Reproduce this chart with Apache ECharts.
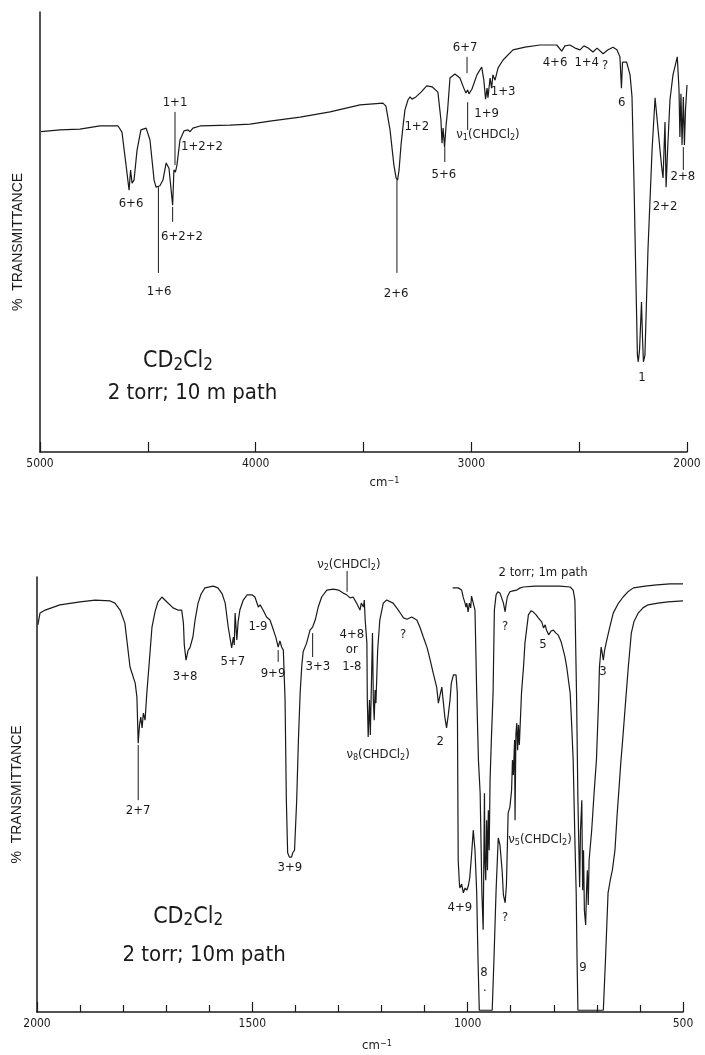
<!DOCTYPE html>
<html>
<head>
<meta charset="utf-8">
<script src="https://cdn.jsdelivr.net/npm/echarts@6/dist/echarts.min.js"></script>
<style>
  html, body { margin: 0; background: #fff; }
  #main { width: 705px; height: 1055px; }
</style>
</head>
<body>
<div id="main"></div>
<script>
// IR spectrum of CD2Cl2, % transmittance vs wavenumber (cm-1)

// upper panel, 5000-2000 cm-1, 10 m path
const topWavenumber = [4995, 4907, 4815, 4722, 4638, 4620, 4601, 4587, 4580, 4573, 4564, 4550, 4532, 4508, 4490, 4471, 4462, 4444, 4430, 4415,
  4402, 4385, 4379, 4372, 4365, 4351, 4332, 4314, 4304, 4291, 4258, 4119, 4026, 3934, 3794, 3655, 3516, 3410, 3396, 3377,
  3359, 3349, 3342, 3335, 3326, 3317, 3308, 3294, 3284, 3275, 3257, 3233, 3207, 3182, 3155, 3141, 3136, 3131, 3124, 3117,
  3110, 3099, 3076, 3053, 3035, 3025, 3017, 3011, 2997, 2974, 2952, 2942, 2934, 2927, 2923, 2913, 2906, 2900, 2890, 2876,
  2853, 2807, 2751, 2682, 2604, 2581, 2566, 2543, 2519, 2496, 2478, 2458, 2436, 2417, 2389, 2366, 2343, 2325, 2311, 2304,
  2299, 2280, 2264, 2255, 2246, 2236, 2230, 2226, 2220, 2211, 2206, 2202, 2195, 2181, 2162, 2148, 2134, 2118, 2111, 2102,
  2097, 2090, 2079, 2065, 2045, 2037, 2033, 2028, 2023, 2017, 2012, 2007, 2000];
const topTrans = [72.8, 73.2, 73.4, 74.1, 74.1, 72.7, 65.2, 59.5, 64.1, 61.1, 61.8, 68.6, 73.2, 73.6, 70.9, 61.8, 60.2, 60.5, 61.8, 65.7,
  64.5, 56.1, 64.1, 63.6, 65.2, 70.9, 73.0, 73.2, 72.8, 73.6, 74.1, 74.3, 74.5, 75.2, 76.1, 77.3, 78.9, 79.3, 78.6, 73.2,
  65.2, 62.3, 61.8, 64.1, 69.8, 73.9, 77.7, 80.0, 80.7, 80.2, 80.7, 81.8, 83.2, 83.0, 81.8, 75.5, 70.2, 73.6, 69.3, 74.3,
  77.7, 85.0, 85.9, 85.0, 82.7, 81.6, 82.3, 81.4, 82.5, 85.7, 87.5, 84.5, 80.2, 82.7, 80.5, 85.0, 82.7, 85.7, 84.5, 87.3,
  89.1, 91.4, 92.0, 92.5, 92.5, 91.1, 92.3, 92.5, 91.8, 91.4, 92.3, 91.8, 90.9, 91.8, 90.5, 91.4, 92.0, 91.4, 89.8, 82.7,
  88.6, 88.6, 85.7, 80.7, 61.8, 36.8, 22.0, 20.5, 23.2, 34.1, 25.5, 20.5, 22.0, 45.9, 68.6, 80.5, 73.2, 65.0, 62.3, 75.0,
  60.2, 68.6, 80.0, 85.7, 89.8, 82.3, 71.6, 81.4, 69.8, 80.7, 69.8, 77.7, 83.4];

// lower panel, 2000-500 cm-1, 10 m path
const lowWavenumber = [1998, 1993, 1981, 1947, 1900, 1865, 1830, 1819, 1807, 1796, 1784, 1772, 1768, 1765, 1762, 1759, 1756, 1753, 1749, 1745,
  1738, 1733, 1726, 1719, 1710, 1699, 1684, 1673, 1664, 1660, 1658, 1654, 1649, 1645, 1638, 1633, 1626, 1619, 1610, 1591,
  1580, 1570, 1563, 1556, 1548, 1544, 1542, 1540, 1536, 1533, 1529, 1521, 1512, 1501, 1494, 1486, 1482, 1475, 1467, 1459,
  1451, 1445, 1440, 1436, 1432, 1428, 1424, 1421, 1418, 1414, 1409, 1406, 1402, 1397, 1393, 1389, 1385, 1382, 1378, 1374,
  1366, 1360, 1354, 1347, 1339, 1327, 1312, 1300, 1289, 1281, 1277, 1273, 1266, 1258, 1250, 1247, 1242, 1240, 1238, 1234,
  1233, 1231, 1228, 1226, 1223, 1221, 1219, 1217, 1215, 1213, 1209, 1204, 1196, 1188, 1173, 1161, 1155, 1149, 1145, 1141,
  1130, 1118, 1111, 1103, 1094, 1087, 1080, 1072, 1068, 1064, 1060, 1057, 1053, 1049, 1045, 1041, 1038, 1033, 1027, 1024,
  1022, 1019, 1018, 1014, 1010, 1006, 1002, 998, 995, 991, 987, 983, 979, 976, 973, 943, 939, 934, 929, 925,
  920, 917, 913, 910, 906, 902, 898, 896, 894, 891, 890, 888, 886, 884, 882, 880, 875, 870, 867, 859,
  853, 848, 841, 836, 832, 828, 824, 820, 817, 812, 806, 801, 795, 790, 783, 778, 774, 770, 766, 762,
  759, 755, 751, 748, 746, 744, 685, 680, 674, 668, 664, 658, 653, 648, 644, 641, 633, 627, 620, 614,
  604, 593, 581, 558, 535, 500];
const lowTrans = [89.0, 91.7, 92.4, 93.6, 94.3, 94.7, 94.5, 94.0, 92.4, 89.4, 79.3, 75.6, 72.4, 61.8, 66.0, 67.8, 65.3, 68.7, 67.1, 73.3,
  82.1, 88.5, 92.0, 94.3, 95.4, 94.3, 92.9, 92.4, 92.4, 89.4, 84.4, 80.9, 83.2, 83.7, 86.2, 90.1, 94.0, 96.1, 97.5, 97.9,
  97.5, 96.1, 94.0, 88.5, 83.7, 86.2, 84.4, 91.7, 85.5, 89.7, 92.4, 94.7, 95.9, 95.9, 95.4, 93.1, 93.6, 92.4, 90.8, 90.1,
  87.8, 86.0, 83.9, 85.3, 83.9, 83.2, 71.7, 48.7, 36.6, 35.6, 35.6, 36.6, 37.2, 48.7, 62.5, 73.3, 79.8, 82.8, 83.2, 84.8,
  87.8, 88.5, 90.1, 93.1, 95.4, 97.0, 97.2, 97.0, 96.3, 95.9, 96.3, 95.2, 95.4, 94.0, 92.4, 94.0, 93.1, 94.7, 90.1, 84.8,
  71.7, 63.2, 71.7, 63.7, 64.1, 87.1, 71.7, 67.1, 74.0, 71.0, 83.2, 90.1, 94.0, 94.7, 94.0, 92.4, 91.5, 90.6, 91.0, 90.3,
  90.8, 90.1, 88.5, 86.2, 83.7, 80.9, 77.9, 74.7, 71.0, 72.9, 74.7, 71.7, 67.8, 65.3, 68.3, 71.7, 75.6, 77.5, 77.5, 73.3,
  34.9, 29.2, 28.5, 29.4, 27.4, 28.5, 28.0, 29.2, 31.0, 36.1, 41.8, 37.2, 27.4, 12.0, 0.4, 0.4, 12.0, 28.0, 40.0, 38.4,
  32.6, 26.9, 25.1, 29.2, 45.7, 47.1, 51.0, 57.9, 54.5, 62.5, 44.1, 63.7, 66.4, 60.2, 66.0, 61.4, 73.3, 79.8, 84.8, 91.3,
  92.2, 92.0, 91.3, 90.6, 90.8, 89.7, 88.3, 89.0, 87.8, 86.7, 87.6, 87.8, 87.1, 86.7, 85.1, 83.2, 81.6, 79.3, 76.3, 73.3,
  67.1, 57.9, 39.5, 27.4, 12.0, 0.4, 0.4, 12.0, 27.4, 30.8, 32.6, 37.2, 45.3, 52.2, 57.9, 61.4, 71.7, 79.3, 87.1, 89.7,
  91.7, 92.9, 93.6, 94.0, 94.3, 94.5];

// lower panel, 2 torr, 1 m path
const shortWavenumber = [1035, 1022, 1014, 1010, 1006, 1004, 1002, 999, 996, 993, 991, 987, 983, 979, 975, 971, 967, 964, 961, 960,
  958, 956, 954, 952, 950, 948, 945, 941, 938, 934, 930, 925, 921, 917, 913, 911, 908, 902, 895, 886,
  878, 871, 844, 816, 786, 762, 758, 755, 751, 747, 744, 740, 738, 735, 733, 731, 729, 726, 724, 722,
  720, 718, 712, 706, 701, 696, 694, 690, 688, 685, 682, 677, 670, 662, 651, 639, 628, 615, 588, 561,
  530, 500];
const shortTrans = [97.5, 97.5, 97.0, 95.2, 94.0, 93.1, 94.0, 92.0, 94.0, 92.9, 95.6, 95.2, 92.4, 73.3, 57.9, 50.3, 27.4, 18.9, 50.3, 34.9,
  30.3, 44.1, 32.6, 46.4, 37.2, 53.3, 62.5, 73.3, 92.4, 95.9, 96.6, 96.3, 95.2, 94.0, 92.0, 93.6, 95.4, 96.6, 96.8, 97.0,
  97.5, 97.7, 97.9, 97.9, 97.9, 97.7, 97.5, 97.0, 94.7, 71.7, 48.7, 28.7, 41.8, 48.7, 28.0, 37.2, 23.4, 20.0, 28.0, 32.6,
  24.6, 34.9, 41.8, 51.0, 57.9, 71.7, 79.3, 83.9, 82.8, 80.9, 83.2, 85.5, 88.5, 91.7, 93.8, 95.4, 96.6, 97.5, 97.9, 98.2,
  98.4, 98.4];

// band assignments: [text, wavenumber, transmittance]
const topLabels = [
  ['1+1', 4374, 79.3], ['1+2+2', 4249, 69.3], ['6+6', 4578, 56.4], ['6+2+2', 4342, 48.9],
  ['1+6', 4448, 36.4], ['2+6', 3349, 36.1], ['1+2', 3253, 73.9], ['5+6', 3127, 63.0],
  ['6+7', 3029, 92.0], ['{n|ν}{s|1}{n|(CHDCl}{s|2}{n|)}', 2923, 72.0], ['1+9', 2929, 77.0],
  ['1+3', 2853, 81.8], ['4+6', 2612, 88.4], ['1+4', 2465, 88.4], ['?', 2380, 87.7],
  ['6', 2303, 79.3], ['2+2', 2102, 55.7], ['2+8', 2019, 62.5], ['1', 2209, 17.0]
];
const topLeaders = [[4374, 77.3, 65.2], [4385, 55.7, 52.3], [4451, 60.2, 40.7], [3345, 61.8, 40.7],
  [3123, 69.3, 65.9], [3020, 89.8, 86.1], [3017, 79.5, 73.2], [2017, 69.3, 64.1]];
const topNotes = [['{m|CD}{b|2}{m|Cl}{b|2}', 4360, 20.5], ['2 torr; 10 m path', 4293, 13.4]];

const lowLabels = [
  ['{n|ν}{s|2}{n|(CHDCl}{s|2}{n|)}', 1276, 102.8], ['2 torr; 1m path', 825, 100.9],
  ['3+8', 1656, 77.0], ['5+7', 1545, 80.5], ['1-9', 1487, 88.5], ['9+9', 1452, 77.9],
  ['3+3', 1348, 79.3], ['4+8', 1269, 86.7], ['or', 1269, 83.2], ['1-8', 1269, 79.3],
  ['?', 1150, 86.7], ['{n|ν}{s|8}{n|(CHDCl}{s|2}{n|)}', 1208, 59.1], ['2', 1064, 62.1],
  ['2+7', 1765, 46.4], ['3+9', 1413, 33.1], ['4+9', 1018, 24.1], ['?', 913, 21.6],
  ['{n|ν}{s|5}{n|(CHDCl}{s|2}{n|)}', 832, 39.5], ['8', 962, 9.0], ['·', 960, 4.6],
  ['9', 732, 10.1], ['5', 825, 84.4], ['3', 686, 78.2], ['?', 913, 88.5]
];
const lowLeaders = [[1765, 61.4, 48.7], [1360, 87.1, 81.6], [1440, 83.2, 80.5], [1280, 101.4, 96.6]];
const lowNotes = [['{m|CD}{b|2}{m|Cl}{b|2}', 1649, 21.8], ['2 torr; 10m path', 1612, 13.1]];

const FONT = '"Liberation Sans Narrow", "DejaVu Sans Condensed", "Liberation Sans", sans-serif';
const ink = '#1a1a1a';

const chart = echarts.init(document.getElementById('main'));

const pairs = (xs, ys) => xs.map((x, i) => [x, ys[i]]);

const nameRich = {
  a: { fontSize: 13, fontFamily: FONT, color: ink, verticalAlign: 'bottom', lineHeight: 13, padding: [5, 0, 0, 0] },
  b: { fontSize: 9, fontFamily: FONT, color: ink, verticalAlign: 'top', lineHeight: 10 }
};

function makeX(grid, min, max, minor, gap, shift) {
  return {
    gridIndex: grid, type: 'value', min: min, max: max, interval: 500, inverse: true,
    axisLine: { lineStyle: { color: ink, width: 1.5 } },
    axisTick: { inside: true, length: 10, lineStyle: { color: ink, width: 1.2 } },
    minorTick: { show: minor, splitNumber: 5, length: 7, lineStyle: { color: ink, width: 1.2 } },
    axisLabel: {
      color: ink, fontSize: 12, fontFamily: FONT, margin: 6,
      formatter: v => (grid === 0 && v % 1000 !== 0) ? '' : String(v)
    },
    splitLine: { show: false },
    name: '{a|cm}{b|−1}', nameLocation: 'middle', nameGap: gap,
    nameTextStyle: { rich: nameRich, padding: [0, 0, 0, shift] }
  };
}

function makeY(grid, gap, pad) {
  return {
    gridIndex: grid, type: 'value', min: 0, max: 100,
    axisLine: { show: true, lineStyle: { color: ink, width: 1.5 } },
    axisTick: { show: false }, axisLabel: { show: false }, splitLine: { show: false },
    name: '%  TRANSMITTANCE', nameLocation: 'middle', nameRotate: 90, nameGap: gap,
    nameTextStyle: { color: ink, fontSize: 14, fontFamily: '"Liberation Sans", sans-serif', padding: pad }
  };
}

function trace(grid, xs, ys) {
  return {
    type: 'line', xAxisIndex: grid, yAxisIndex: grid, data: pairs(xs, ys),
    showSymbol: false, symbol: 'none', clip: false,
    lineStyle: { color: ink, width: 1.2 }
  };
}

chart.setOption({
  animation: false,
  backgroundColor: '#fff',
  grid: [
    { left: 40, top: 12, width: 647, height: 440 },
    { left: 37, top: 577, width: 646, height: 435 }
  ],
  xAxis: [makeX(0, 2000, 5000, false, 24, 42), makeX(1, 500, 2000, true, 27, 34)],
  yAxis: [makeY(0, 15, [0, 20, 0, 0]), makeY(1, 13, [0, 0, 0, 0])],
  series: [
    trace(0, topWavenumber, topTrans),
    trace(1, lowWavenumber, lowTrans),
    trace(1, shortWavenumber, shortTrans)
  ]
});

// annotations placed through the axes' own scales
const labelRich = {
  n: { fontSize: 13, fontFamily: FONT, verticalAlign: 'top', lineHeight: 14 },
  s: { fontSize: 9, fontFamily: FONT, verticalAlign: 'bottom', lineHeight: 10, padding: [6, 0, 0, 0] }
};
const noteRich = {
  m: { fontSize: 23, fontFamily: FONT, verticalAlign: 'top', lineHeight: 24 },
  b: { fontSize: 17, fontFamily: FONT, verticalAlign: 'bottom', lineHeight: 17, padding: [12, 0, 0, 0] }
};

const graphics = [];
function addText(grid, item, size, rich) {
  const p = chart.convertToPixel({ gridIndex: grid }, [item[1], item[2]]);
  graphics.push({
    type: 'text', x: p[0], y: p[1], z: 10,
    style: {
      text: item[0], fill: ink, fontSize: size, fontFamily: FONT,
      align: 'center', verticalAlign: 'middle', rich: rich
    }
  });
}
function addLeader(grid, l) {
  const a = chart.convertToPixel({ gridIndex: grid }, [l[0], l[1]]);
  const b = chart.convertToPixel({ gridIndex: grid }, [l[0], l[2]]);
  graphics.push({
    type: 'line', z: 10,
    shape: { x1: a[0], y1: a[1], x2: b[0], y2: b[1] },
    style: { stroke: ink, lineWidth: 1 }
  });
}

topLabels.forEach(l => addText(0, l, 13, labelRich));
lowLabels.forEach(l => addText(1, l, 13, labelRich));
topNotes.forEach(l => addText(0, l, 22, noteRich));
lowNotes.forEach(l => addText(1, l, 22, noteRich));
topLeaders.forEach(l => addLeader(0, l));
lowLeaders.forEach(l => addLeader(1, l));

chart.setOption({ graphic: graphics });
</script>
</body>
</html>
